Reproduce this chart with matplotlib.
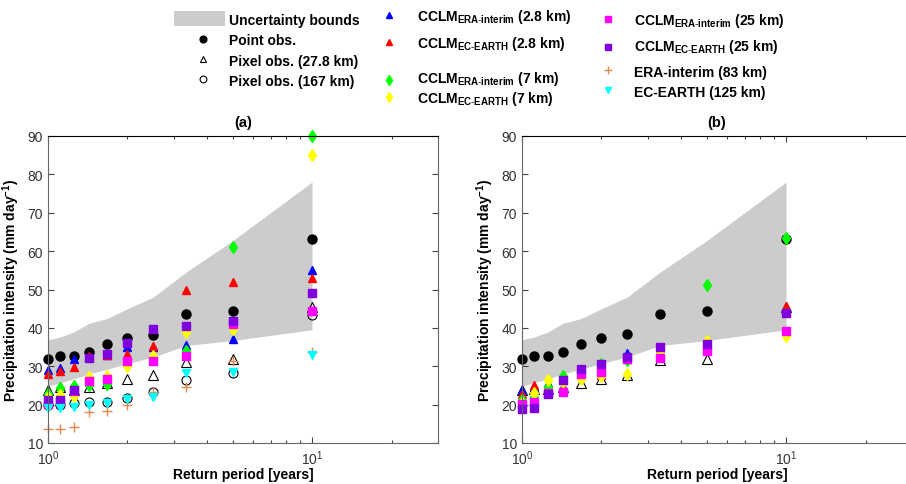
import matplotlib
matplotlib.use('Agg')
import matplotlib.pyplot as plt
from matplotlib.lines import Line2D
from matplotlib.patches import Rectangle
from matplotlib.ticker import LogLocator, NullFormatter, MultipleLocator

plt.rcParams['font.family'] = ['Liberation Sans', 'DejaVu Sans']
plt.rcParams['mathtext.fontset'] = 'custom'
plt.rcParams['mathtext.rm'] = 'Liberation Sans'
plt.rcParams['mathtext.bf'] = 'Liberation Sans:bold'

# return periods [years]
T = [1.0, 1.11, 1.25, 1.43, 1.67, 2.0, 2.5, 3.33, 5.0, 10.0]

# uncertainty bounds (same in both panels)
band_lo = [24.8, 25.7, 26.7, 28.0, 29.2, 30.7, 32.4, 35.4, 36.7, 39.5]
band_hi = [36.9, 37.6, 38.9, 41.2, 42.4, 45.0, 48.0, 54.5, 62.7, 78.0]

# panel (a)
point_a = [32.0, 32.6, 32.7, 33.8, 35.7, 37.3, 38.2, 43.5, 44.3, 63.2]
pix28_a = [23.7, 24.6, 23.9, 24.6, 25.6, 26.6, 27.8, 31.1, 32.0, 45.5]
pix167_a = [20.0, 20.0, 20.4, 20.7, 20.8, 21.8, 23.4, 26.5, 28.2, 43.4]
era28_a = [28.9, 29.5, 31.9, 32.3, 33.0, 35.0, 35.0, 35.6, 37.2, 55.2]
ec28_a = [28.0, 28.7, 29.8, 32.6, 33.0, 33.3, 35.4, 49.8, 51.9, 53.0]
era7_a = [22.8, 24.3, 24.8, 25.2, 25.5, 30.5, 32.4, 34.1, 61.2, 90.0]
ec7_a = [22.0, 22.4, 22.3, 27.2, 27.4, 30.0, 32.8, 38.9, 39.8, 85.0]
era25_a = [20.2, 20.8, 23.5, 26.2, 26.6, 31.3, 31.4, 32.6, 41.0, 44.3]
ec25_a = [21.1, 21.1, 23.7, 32.1, 33.3, 36.1, 39.8, 40.5, 41.7, 49.0]
era83_a = [13.6, 13.6, 14.2, 18.2, 18.4, 19.8, 23.4, 24.6, 31.3, 33.7]
ec125_a = [19.2, 19.2, 19.4, 20.0, 20.5, 21.5, 22.1, 28.2, 28.5, 33.0]

# panel (b)
point_b = [32.0, 32.6, 32.7, 33.8, 35.7, 37.3, 38.5, 43.5, 44.3, 63.2]
pix28_b = [23.7, 24.0, 24.1, 24.6, 25.6, 26.6, 27.6, 31.5, 32.0, 45.5]
era28_b = [23.9, 24.5, 25.6, 26.8, 28.7, 30.9, 33.5, 34.8, 35.5, 45.0]
ec28_b = [22.8, 25.0, 25.2, 26.5, 28.0, 27.8, 32.0, 32.8, 34.5, 45.7]
era7_b = [21.1, 22.0, 24.6, 27.4, 28.3, 30.7, 31.5, 33.0, 51.3, 63.4]
ec7_b = [20.5, 23.0, 26.5, 26.0, 26.7, 27.4, 28.0, 33.5, 36.7, 37.9]
era25_b = [20.2, 20.8, 23.0, 23.4, 28.0, 28.5, 31.8, 32.2, 33.9, 39.2]
ec25_b = [18.9, 19.1, 22.7, 26.5, 29.2, 30.7, 32.4, 35.0, 35.9, 43.9]

# styles
st_point = dict(marker='o', ms=6.5, mfc='k', mec='k', ls='none')
st_pix28 = dict(marker='^', ms=6.5, mfc='none', mec='k', mew=0.8, ls='none')
st_pix167 = dict(marker='o', ms=6.5, mfc='none', mec='k', mew=0.8, ls='none')
st_era28 = dict(marker='^', ms=6, mfc='#0000ff', mec='#0000ff', ls='none')
st_ec28 = dict(marker='^', ms=6, mfc='#ff0000', mec='#ff0000', ls='none')
st_era7 = dict(marker='d', ms=6.5, mfc='#00ff00', mec='#00ff00', ls='none')
st_ec7 = dict(marker='d', ms=6.5, mfc='#ffff00', mec='#ffff00', ls='none')
st_era25 = dict(marker='s', ms=5.5, mfc='#ff00ff', mec='#ff00ff', ls='none')
st_ec25 = dict(marker='s', ms=5.5, mfc='#8000e0', mec='#8000e0', ls='none')
st_era83 = dict(marker='+', ms=7, mec='#e8894f', mew=1.0, ls='none')
st_ec125 = dict(marker='v', ms=6, mfc='#00ffff', mec='#00ffff', ls='none')

W, H = 906, 485
fig = plt.figure(figsize=(W / 100, H / 100), dpi=100)


def fx(px):
    return px / W


def fy(py):
    return 1 - py / H


def style_axes(ax, title):
    ax.set_xscale('log')
    ax.set_xlim(1, 30)
    ax.set_ylim(10, 90)
    ax.yaxis.set_major_locator(MultipleLocator(10))
    ax.xaxis.set_major_locator(LogLocator(base=10, numticks=5))
    ax.xaxis.set_minor_locator(LogLocator(base=10, subs=range(2, 10), numticks=10))
    ax.xaxis.set_minor_formatter(NullFormatter())
    ax.tick_params(which='both', direction='in', top=True, right=True,
                   labelsize=10, labelcolor='#333333', color='#444444')
    ax.tick_params(which='major', length=4, width=0.8)
    ax.tick_params(which='minor', length=2.5, width=0.8)
    ax.tick_params(axis='x', pad=4)
    for s in ['left', 'bottom', 'right']:
        ax.spines[s].set_color('#666666')
    ax.spines['top'].set_color('k')
    ax.set_xlabel('Return period [years]', fontweight='bold', fontsize=10, labelpad=0)
    ax.set_ylabel(r'Precipitation intensity (mm day$^{\mathbf{-1}}$)',
                  fontweight='bold', fontsize=10, labelpad=4)
    ax.set_title(title, fontweight='bold', fontsize=10.5, pad=7)


ax1 = fig.add_axes([fx(48), fy(444), fx(390), 307 / H])
ax2 = fig.add_axes([fx(522), fy(444), fx(390), 307 / H])

for ax in (ax1, ax2):
    ax.fill_between(T, band_lo, band_hi, color='#cccccc', lw=0, zorder=1)

ax1.plot(T, point_a, **st_point)
ax1.plot(T, pix28_a, **st_pix28)
ax1.plot(T, pix167_a, **st_pix167)
ax1.plot(T, era28_a, **st_era28)
ax1.plot(T, ec28_a, **st_ec28)
ax1.plot(T, era7_a, **st_era7)
ax1.plot(T, ec7_a, **st_ec7)
ax1.plot(T, era25_a, **st_era25)
ax1.plot(T, ec25_a, **st_ec25)
ax1.plot(T, era83_a, **st_era83)
ax1.plot(T, ec125_a, **st_ec125)

ax2.plot(T, point_b, **st_point)
ax2.plot(T, pix28_b, **st_pix28)
ax2.plot(T, era28_b, **st_era28)
ax2.plot(T, ec28_b, **st_ec28)
ax2.plot(T, era7_b, **st_era7)
ax2.plot(T, ec7_b, **st_ec7)
ax2.plot(T, era25_b, **st_era25)
ax2.plot(T, ec25_b, **st_ec25)

for ax, t in ((ax1, '(a)'), (ax2, '(b)')):
    style_axes(ax, t)
    for a in ax.lines:
        a.set_clip_on(False)

# legend, drawn by hand in figure coordinates
fig.add_artist(Rectangle((fx(174), fy(27)), fx(51), 15 / H, transform=fig.transFigure,
                         color='#cccccc', lw=0))


def leg_marker(px, py, st, scale=0.75):
    s = dict(st)
    s['ms'] = s['ms'] * scale
    fig.add_artist(Line2D([fx(px)], [fy(py)], transform=fig.transFigure, **s))


def leg_text(px, py, txt):
    fig.text(fx(px), fy(py), txt, fontsize=10, fontweight='bold', va='baseline', ha='left')


leg_marker(203, 40, st_point)
leg_marker(203, 60, st_pix28)
leg_marker(203, 80, st_pix167)
leg_text(229, 25, 'Uncertainty bounds')
leg_text(229, 45, 'Point obs.')
leg_text(229, 66, 'Pixel obs. (27.8 km)')
leg_text(229, 86, 'Pixel obs. (167 km)')

sub_era = r'$_{\mathbf{ERA}\text{-}\mathbf{interim}}$'
sub_ec = r'$_{\mathbf{EC}\text{-}\mathbf{EARTH}}$'

leg_marker(389, 16, st_era28)
leg_marker(389, 43, st_ec28)
leg_marker(389, 81, st_era7)
leg_marker(389, 98, st_ec7)
leg_text(417, 21, 'CCLM' + sub_era + ' (2.8 km)')
leg_text(417, 48, 'CCLM' + sub_ec + ' (2.8 km)')
leg_text(417, 83, 'CCLM' + sub_era + ' (7 km)')
leg_text(417, 103, 'CCLM' + sub_ec + ' (7 km)')

leg_marker(608, 20, st_era25)
leg_marker(608, 48, st_ec25)
leg_marker(608, 71, st_era83)
leg_marker(608, 91, st_ec125)
leg_text(634, 25, 'CCLM' + sub_era + ' (25 km)')
leg_text(634, 51, 'CCLM' + sub_ec + ' (25 km)')
leg_text(634, 77, 'ERA-interim (83 km)')
leg_text(634, 97, 'EC-EARTH (125 km)')

fig.savefig('out.png', dpi=100)
